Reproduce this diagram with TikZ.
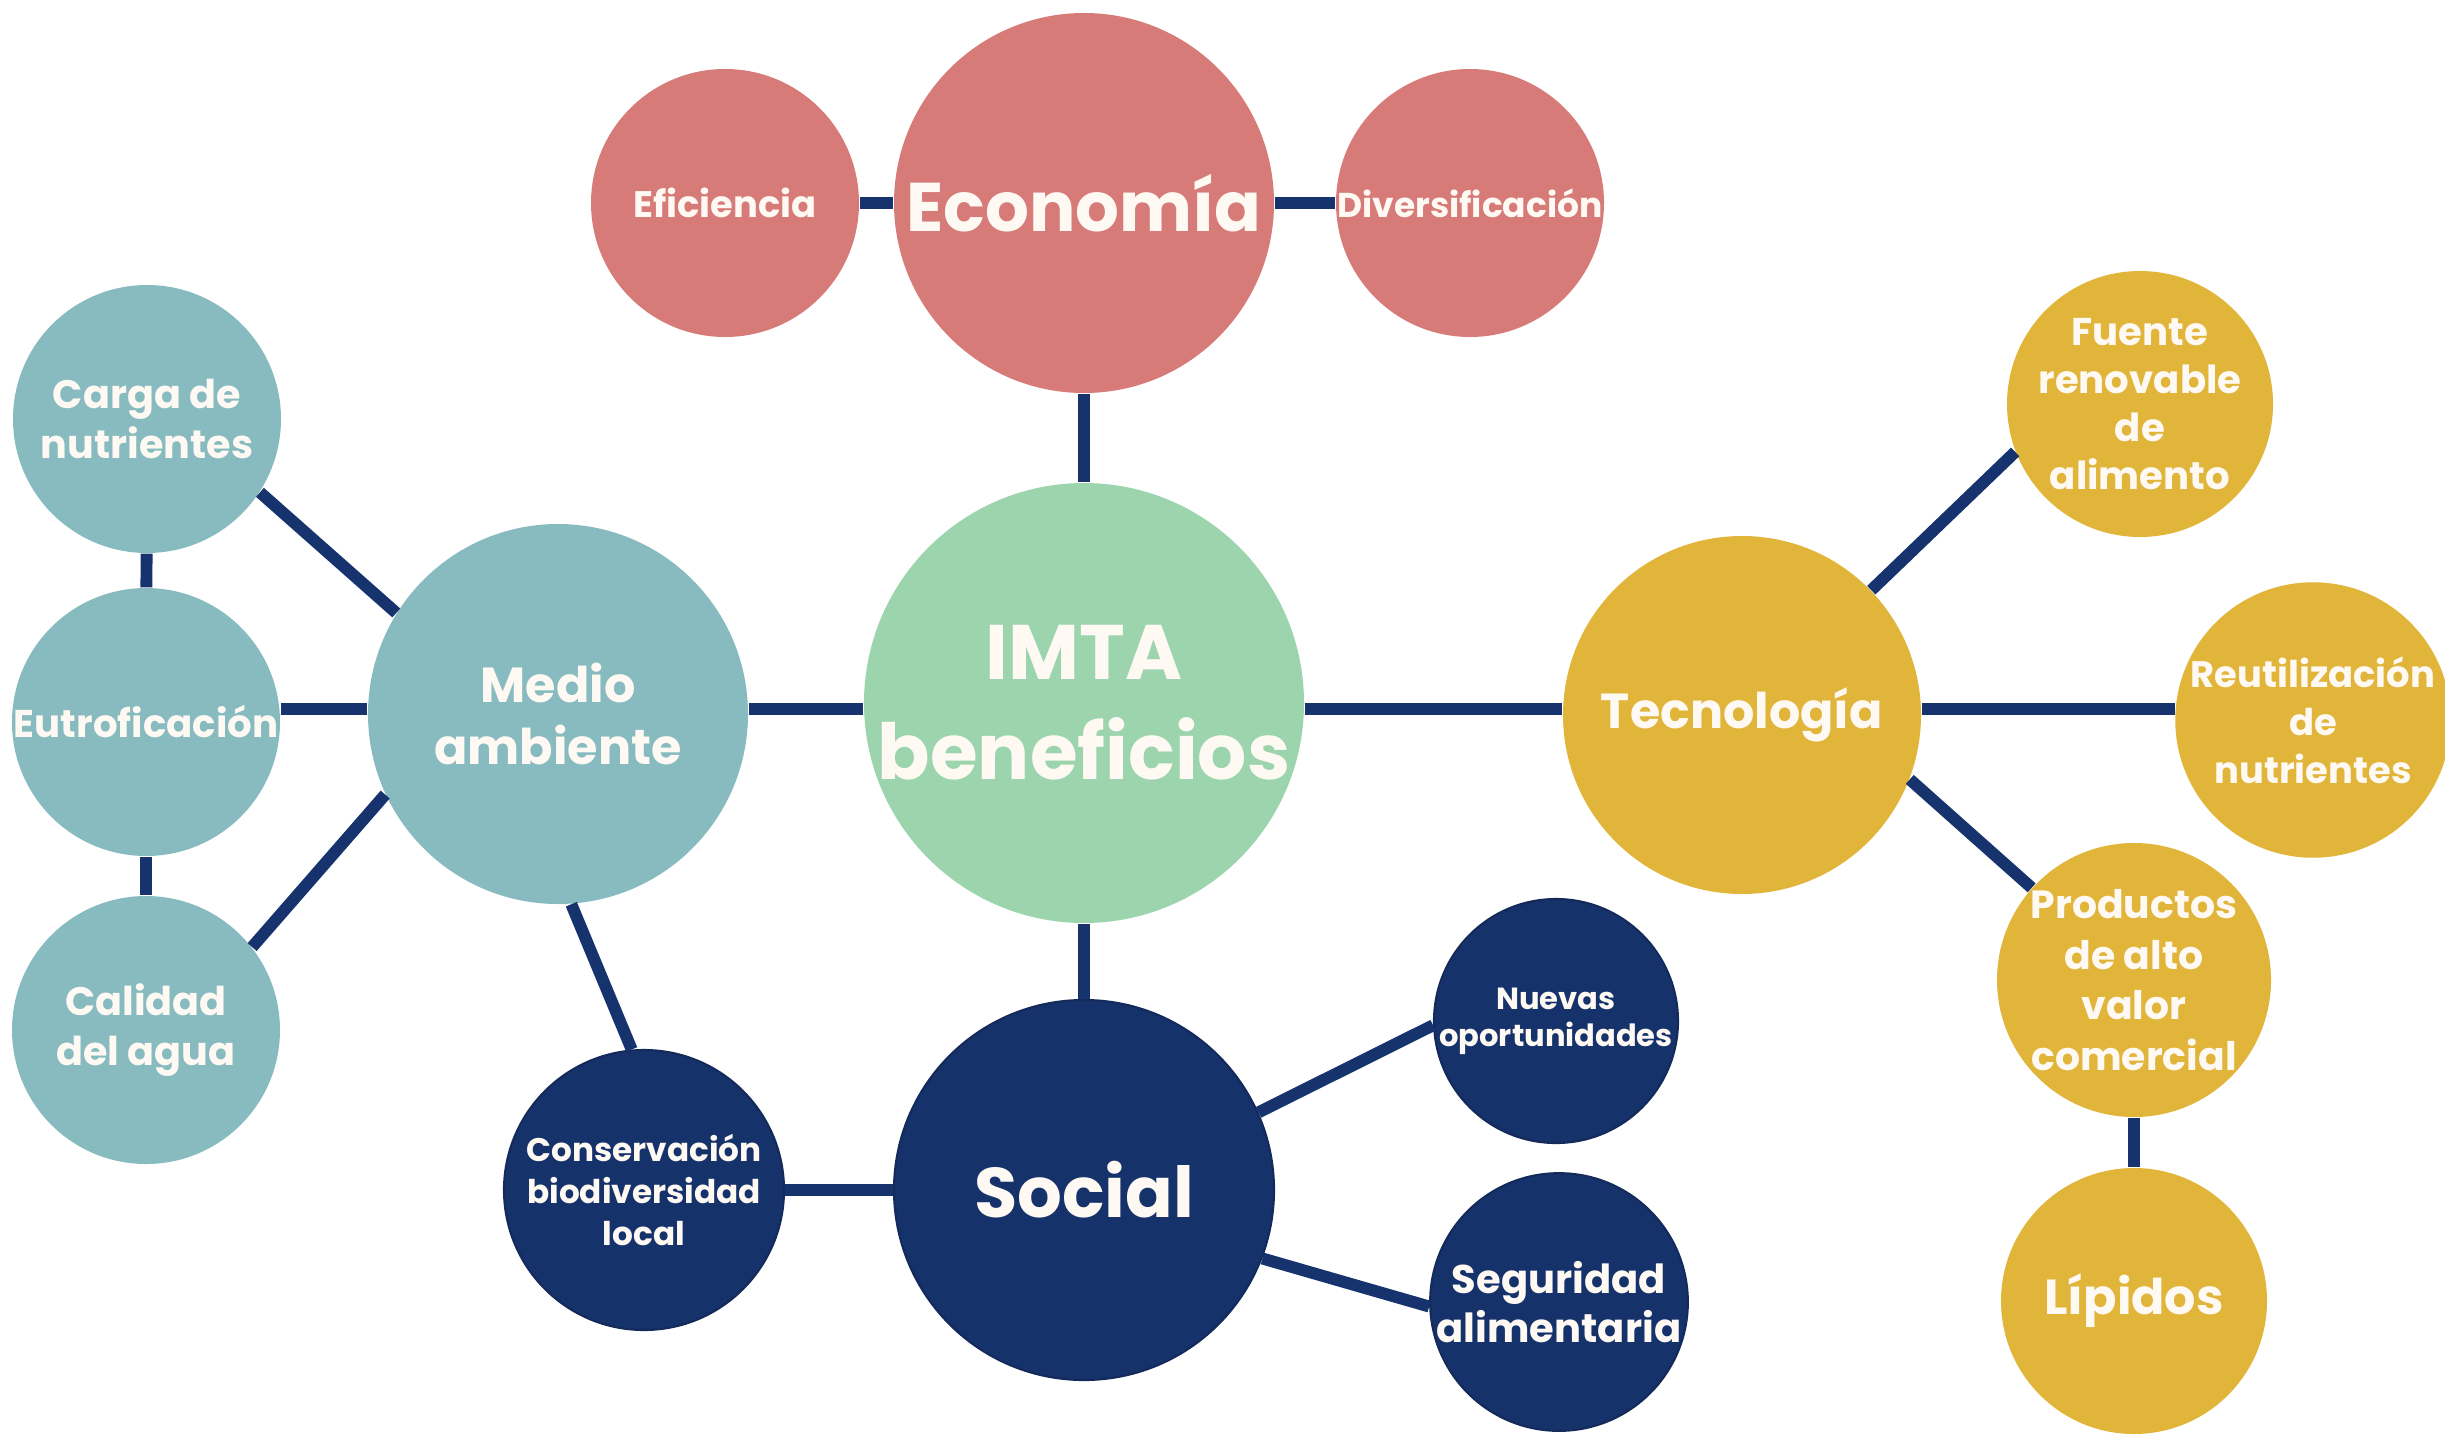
\documentclass[tikz,border=0pt]{standalone}
\usepackage{fontspec}
\setmainfont{Poppins}
\usepackage{tikz}

\definecolor{ecopink}{HTML}{D77B78}
\definecolor{imtagreen}{HTML}{9CD4AE}
\definecolor{envteal}{HTML}{87BBBF}
\definecolor{techgold}{HTML}{E1B43A}
\definecolor{socnavy}{HTML}{16326B}
\definecolor{linkblue}{HTML}{17336E}
\definecolor{cream}{HTML}{FFF9F4}

\newcommand{\fsz}[2]{\bfseries\fontsize{#1}{#2}\selectfont}

\begin{document}
\begin{tikzpicture}[
    bubble/.style={circle,inner sep=0pt,align=center,text=cream},
    big/.style={bubble,minimum size=3.80cm},
    small/.style={bubble,minimum size=2.68cm},
    navyring/.style={fill=socnavy,draw=socnavy!85!black,line width=0.6pt},
    link/.style={draw=linkblue,line width=3.4pt}
  ]
    \useasboundingbox (0,0) rectangle (24.45,-14.40);
    \coordinate (axis) at (0,-7.09);

    \node[bubble,fill=imtagreen,minimum size=4.40cm,font=\fsz{22}{28.5}]
      (imta) at (10.84,-7.03) {IMTA\\beneficios};

    \node[big,fill=ecopink,font=\fsz{19.6}{24}] (eco) at (10.84,-2.03) {Econom\'ia};
    \node[small,fill=ecopink,font=\fsz{10.5}{13}] (efi) at (7.25,-2.03) {Eficiencia};
    \node[small,fill=ecopink,font=\fsz{9.8}{13}] (div) at (14.70,-2.03) {Diversificaci\'on};

    \node[big,fill=envteal,font=\fsz{14}{17.7}] (medio) at (5.58,-7.14) {Medio\\ambiente};
    \node[small,fill=envteal,font=\fsz{11.3}{14.2}] (carga) at (1.47,-4.19) {Carga de\\nutrientes};
    \node[small,fill=envteal,font=\fsz{11}{14}] (eutro) at (1.46,-7.22) {Eutroficaci\'on};
    \node[small,fill=envteal,font=\fsz{11.3}{14.4}] (calidad) at (1.46,-10.30) {Calidad\\del agua};

    \node[bubble,fill=techgold,minimum size=3.58cm,font=\fsz{14}{17}] (tec) at (17.42,-7.15) {Tecnolog\'ia};
    \node[small,fill=techgold,minimum size=2.66cm,font=\fsz{11}{13.7}] (fuente) at (21.40,-4.04)
      {Fuente\\renovable\\de\\alimento};
    \node[small,fill=techgold,minimum size=2.66cm,font=\fsz{10.5}{13.7}] (reuti) at (23.13,-7.20)
      {Reutilizaci\'on\\de\\nutrientes};
    \node[small,fill=techgold,minimum size=2.66cm,font=\fsz{11.2}{14.4}] (prod) at (21.34,-9.80)
      {Productos\\de alto\\valor\\comercial};
    \node[small,fill=techgold,minimum size=2.66cm,font=\fsz{14}{17}] (lipidos) at (21.34,-13.01) {L\'ipidos};

    \node[big,navyring,font=\fsz{20}{24}] (social) at (10.84,-11.90) {Social};
    \node[bubble,navyring,minimum size=2.80cm,font=\fsz{9.3}{12}]
      (cons) at (6.44,-11.90) {Conservaci\'on\\biodiversidad\\local};
    \node[bubble,navyring,minimum size=2.44cm,font=\fsz{8.7}{10.6}]
      (nuevas) at (15.56,-10.21) {Nuevas\\oportunidades};
    \node[bubble,navyring,minimum size=2.44cm,font=\fsz{11.4}{14}]
      (seg) at (15.59,-13.02) {Seguridad\\alimentaria};

    \draw[link] (efi) -- (eco);
    \draw[link] (eco) -- (div);
    \draw[link] (eco) -- (imta);
    \draw[link] (imta) -- (social);
    \draw[link] (medio.east |- axis) -- (imta.west |- axis);
    \draw[link] (imta.east |- axis) -- (tec.west |- axis);

    \draw[link] (carga.-33) -- (medio.148);
    \draw[link] (eutro.east |- axis) -- (medio.west |- axis);
    \draw[link] (calidad.38) -- (medio.205);
    \draw[link] (carga) -- (eutro);
    \draw[link] (eutro) -- (calidad);
    \draw[link] (medio.-86) -- (cons.95);

    \draw[link] (cons) -- (social);
    \draw[link] (social.24) -- (nuevas.182);
    \draw[link] (social.-21) -- (seg.182);

    \draw[link] (tec.44) -- (fuente.201);
    \draw[link] (tec.east |- axis) -- (reuti.west |- axis);
    \draw[link] (tec.-21) -- (prod.138);
    \draw[link] (prod) -- (lipidos);
  \end{tikzpicture}
\end{document}
